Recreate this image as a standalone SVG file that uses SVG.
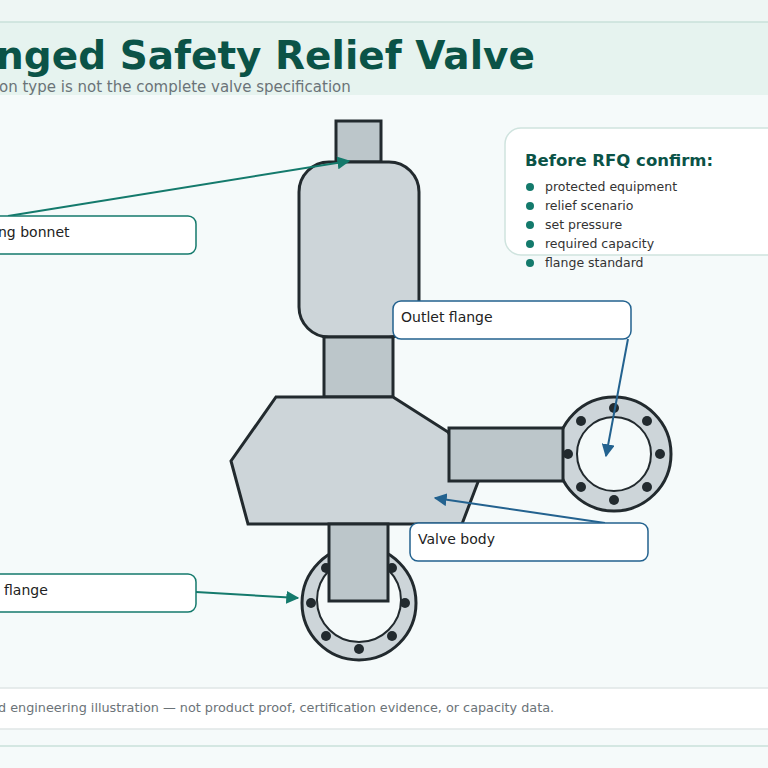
<svg xmlns="http://www.w3.org/2000/svg" width="768" height="768" viewBox="0 0 768 768">
<defs>
<style>
text{font-family:"DejaVu Sans","Noto Sans",sans-serif}
.part{fill:#cdd5d9;stroke:#222a2e;stroke-width:3}
.pipe{fill:#bcc6ca;stroke:#222a2e;stroke-width:3}
.bolt{fill:#222a2e}
.lbl{fill:#fff;stroke-width:1.5}
.lt{font-size:14px;fill:#222}
.tc{stroke:#147a6c;stroke-width:2;fill:none}
.bc{stroke:#23628f;stroke-width:2;fill:none}
.li{font-size:12.5px;fill:#333}
</style>
<marker id="at" viewBox="0 0 10 10" refX="9" refY="5" markerWidth="13" markerHeight="13" markerUnits="userSpaceOnUse" orient="auto"><path d="M0,0L10,5L0,10z" fill="#147a6c"/></marker>
<marker id="ab" viewBox="0 0 10 10" refX="9" refY="5" markerWidth="13" markerHeight="13" markerUnits="userSpaceOnUse" orient="auto"><path d="M0,0L10,5L0,10z" fill="#23628f"/></marker>
</defs>
<rect width="768" height="768" fill="#f5fafa"/>
<rect x="0" y="0" width="768" height="22" fill="#eef6f4"/>
<rect x="0" y="22" width="768" height="73" fill="#e6f3ef"/>
<line x1="0" y1="22" x2="768" y2="22" stroke="#c9e0da" stroke-width="1.5"/>
<text x="-4" y="69" font-size="39" font-weight="bold" fill="#0b5347">nged Safety Relief Valve</text>
<text x="-1" y="92" font-size="15" fill="#6b7378">on type is not the complete valve specification</text>

<g id="valve">
<rect class="pipe" x="336" y="121" width="45" height="41"/>
<rect class="part" x="299" y="162" width="120" height="175" rx="30"/>
<rect class="pipe" x="324" y="337" width="69" height="60"/>
<polygon class="part" points="276,397 393,397 448,432 478,482 462,524 248,524 231,461"/>
<g id="outlet-flange">
<circle cx="614" cy="454" r="57" fill="#cdd5d9" stroke="#222a2e" stroke-width="3"/>
<circle cx="614" cy="454" r="37" fill="#f5fafa" stroke="#222a2e" stroke-width="2"/>
<circle class="bolt" cx="614" cy="408" r="5"/><circle class="bolt" cx="647" cy="421" r="5"/><circle class="bolt" cx="660" cy="454" r="5"/><circle class="bolt" cx="647" cy="487" r="5"/><circle class="bolt" cx="614" cy="500" r="5"/><circle class="bolt" cx="581" cy="487" r="5"/><circle class="bolt" cx="568" cy="454" r="5"/><circle class="bolt" cx="581" cy="421" r="5"/>
</g>
<rect class="pipe" x="449" y="428" width="114" height="53"/>
<g id="inlet-flange">
<circle cx="359" cy="603" r="57" fill="#cdd5d9" stroke="#222a2e" stroke-width="3"/>
<circle cx="359" cy="600" r="42" fill="#f5fafa" stroke="#222a2e" stroke-width="2"/>
<circle class="bolt" cx="359" cy="649" r="5"/><circle class="bolt" cx="392" cy="636" r="5"/><circle class="bolt" cx="405" cy="603" r="5"/><circle class="bolt" cx="392" cy="568" r="5"/><circle class="bolt" cx="326" cy="568" r="5"/><circle class="bolt" cx="311" cy="603" r="5"/><circle class="bolt" cx="326" cy="636" r="5"/>
</g>
<rect class="pipe" x="329" y="524" width="59" height="77"/>
</g>

<g id="connectors">
<line class="tc" x1="8" y1="216" x2="349" y2="161" marker-end="url(#at)"/>
<line class="tc" x1="196" y1="592" x2="298" y2="598" marker-end="url(#at)"/>
<line class="bc" x1="628" y1="339" x2="606" y2="456" marker-end="url(#ab)"/>
<line class="bc" x1="605" y1="523" x2="435" y2="498" marker-end="url(#ab)"/>
</g>

<g id="label-bonnet"><rect class="lbl" x="-20" y="216" width="216" height="38" rx="8" stroke="#147a6c"/><text class="lt" x="-2" y="237">ng bonnet</text></g>
<g id="label-outlet"><rect class="lbl" x="393" y="301" width="238" height="38" rx="8" stroke="#23628f"/><text class="lt" x="401" y="322">Outlet flange</text></g>
<g id="label-body"><rect class="lbl" x="410" y="523" width="238" height="38" rx="8" stroke="#23628f"/><text class="lt" x="418" y="544">Valve body</text></g>
<g id="label-inlet"><rect class="lbl" x="-20" y="574" width="216" height="38" rx="8" stroke="#147a6c"/><text class="lt" x="4" y="595">flange</text></g>

<g id="rfq">
<rect x="505" y="128" width="280" height="127" rx="16" fill="#fff" stroke="#cfe3de" stroke-width="1.5"/>
<text x="525" y="166" font-size="16.5" font-weight="bold" fill="#0b5347">Before RFQ confirm:</text>
<g fill="#147a6c"><circle cx="530" cy="187" r="4"/><circle cx="530" cy="206" r="4"/><circle cx="530" cy="225" r="4"/><circle cx="530" cy="244" r="4"/><circle cx="530" cy="263" r="4"/></g>
<text class="li" x="545" y="191">protected equipment</text>
<text class="li" x="545" y="210">relief scenario</text>
<text class="li" x="545" y="229">set pressure</text>
<text class="li" x="545" y="248">required capacity</text>
<text class="li" x="545" y="267">flange standard</text>
</g>

<g id="footer">
<rect x="-2" y="688" width="772" height="41" fill="#fff" stroke="#dfe6e6" stroke-width="1.5"/>
<text x="-2" y="712" font-size="12.8" fill="#6b7378">d engineering illustration — not product proof, certification evidence, or capacity data.</text>
<line x1="0" y1="746" x2="768" y2="746" stroke="#c9e0da" stroke-width="1.5"/>
</g>
</svg>
